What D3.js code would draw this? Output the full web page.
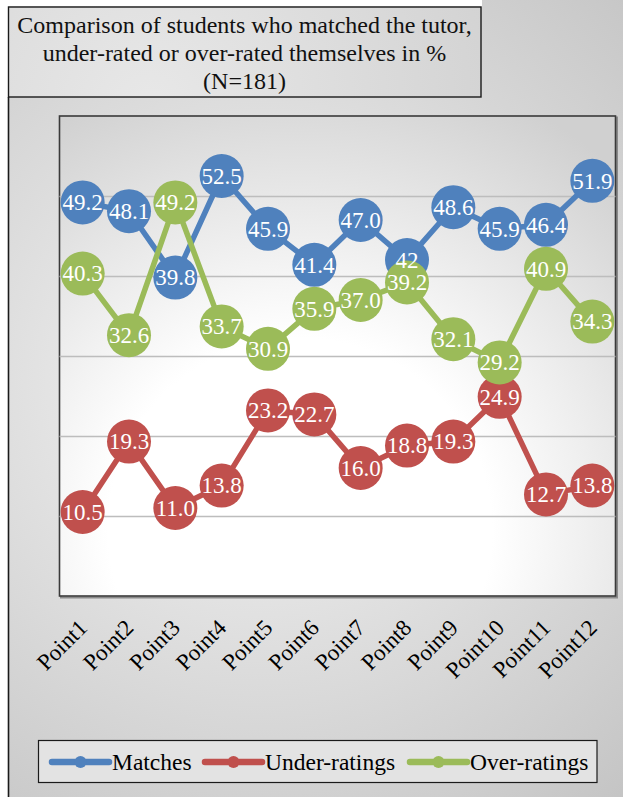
<!DOCTYPE html>
<html>
<head>
<meta charset="utf-8">
<script src="https://cdn.jsdelivr.net/npm/d3@7"></script>
<style>
  html, body { margin: 0; padding: 0; background: #fff; }
  svg { display: block; }
</style>
</head>
<body>
<svg id="chart" width="623" height="797"></svg>
<script>
// Self-assessment vs. tutor rating, percentages per point (N=181)
const categories = ["Point1","Point2","Point3","Point4","Point5","Point6","Point7","Point8","Point9","Point10","Point11","Point12"];
const matches      = [49.2, 48.1, 39.8, 52.5, 45.9, 41.4, 47.0, 42,   48.6, 45.9, 46.4, 51.9];
const underRatings = [10.5, 19.3, 11.0, 13.8, 23.2, 22.7, 16.0, 18.8, 19.3, 24.9, 12.7, 13.8];
const overRatings  = [40.3, 32.6, 49.2, 33.7, 30.9, 35.9, 37.0, 39.2, 32.1, 29.2, 40.9, 34.3];
const labelTexts = {
  matches:      ["49.2","48.1","39.8","52.5","45.9","41.4","47.0","42","48.6","45.9","46.4","51.9"],
  underRatings: ["10.5","19.3","11.0","13.8","23.2","22.7","16.0","18.8","19.3","24.9","12.7","13.8"],
  overRatings:  ["40.3","32.6","49.2","33.7","30.9","35.9","37.0","39.2","32.1","29.2","40.9","34.3"]
};
const yTicks = [10, 20, 30, 40, 50];
const titleLines = ["Comparison of students who matched the tutor,", "under-rated or over-rated themselves in %", "(N=181)"];

const series = [
  { key: "matches",      name: "Matches",       values: matches,      color: "#4F81BD" },
  { key: "underRatings", name: "Under-ratings", values: underRatings, color: "#C0504D" },
  { key: "overRatings",  name: "Over-ratings",  values: overRatings,  color: "#9BBB59" }
];

const SERIF = "'Liberation Serif', 'Times New Roman', Times, serif";

const svg = d3.select("#chart");
const defs = svg.append("defs");

// Gradients for the chart area, plot area and title box
const outerGrad = defs.append("radialGradient").attr("id", "outerGrad")
  .attr("gradientUnits", "userSpaceOnUse").attr("cx", 260).attr("cy", 380).attr("r", 560);
outerGrad.append("stop").attr("offset", "0%").attr("stop-color", "#f6f6f6");
outerGrad.append("stop").attr("offset", "100%").attr("stop-color", "#c4c4c4");

const plotGrad = defs.append("radialGradient").attr("id", "plotGrad")
  .attr("gradientUnits", "userSpaceOnUse").attr("cx", 300).attr("cy", 530).attr("r", 480);
plotGrad.append("stop").attr("offset", "0%").attr("stop-color", "#ffffff");
plotGrad.append("stop").attr("offset", "40%").attr("stop-color", "#ffffff");
plotGrad.append("stop").attr("offset", "100%").attr("stop-color", "#d0d0d0");

const titleGrad = defs.append("radialGradient").attr("id", "titleGrad")
  .attr("gradientUnits", "userSpaceOnUse").attr("cx", 150).attr("cy", 110).attr("r", 420);
titleGrad.append("stop").attr("offset", "0%").attr("stop-color", "#e8e8e8");
titleGrad.append("stop").attr("offset", "100%").attr("stop-color", "#cfcfcf");

// Chart area background and frame
svg.append("rect").attr("x", 8).attr("y", 0).attr("width", 640).attr("height", 820)
  .attr("fill", "url(#outerGrad)");
svg.append("line").attr("x1", 8.5).attr("x2", 8.5).attr("y1", 97).attr("y2", 797)
  .attr("stroke", "#1a1a1a").attr("stroke-width", 1.6);
svg.append("rect").attr("x", 0).attr("y", 0).attr("width", 482).attr("height", 6.5).attr("fill", "#ffffff");

// Title box
svg.append("rect").attr("x", 8.5).attr("y", 7).attr("width", 472.5).attr("height", 90)
  .attr("fill", "url(#titleGrad)").attr("stroke", "#1a1a1a").attr("stroke-width", 1.4);
svg.append("g").selectAll("text").data(titleLines).join("text")
  .attr("x", 244.5).attr("y", (d, i) => 33 + i * 27.8)
  .attr("text-anchor", "middle").style("font-family", SERIF).style("font-size", "24px")
  .attr("fill", "#111")
  .text(d => d);

// Plot area
const plot = { left: 59.5, top: 116, right: 615.5, bottom: 596 };
const x = d3.scaleBand().domain(categories).range([plot.left, plot.right]);
const y = d3.scaleLinear().domain([0, 60]).range([plot.bottom, plot.top]);

svg.append("rect").attr("x", plot.left + 1.5).attr("y", plot.top + 1.5)
  .attr("width", plot.right - plot.left).attr("height", plot.bottom - plot.top)
  .attr("fill", "none").attr("stroke", "#8a8a8a").attr("stroke-width", 2);
svg.append("rect").attr("x", plot.left).attr("y", plot.top)
  .attr("width", plot.right - plot.left).attr("height", plot.bottom - plot.top)
  .attr("fill", "url(#plotGrad)").attr("stroke", "#3a3a3a").attr("stroke-width", 1.6);

// Horizontal gridlines
const yAxis = d3.axisLeft(y).tickValues(yTicks).tickSize(-(plot.right - plot.left)).tickFormat("");
const gy = svg.append("g").attr("transform", `translate(${plot.left},0)`).call(yAxis);
gy.select(".domain").remove();
gy.selectAll(".tick line").attr("stroke", "#bdbdbd").attr("stroke-width", 1.6);

// Category labels, rotated
const xAxis = d3.axisBottom(x).tickSize(0).tickPadding(0);
const gx = svg.append("g").attr("transform", `translate(0,${plot.bottom})`).call(xAxis);
gx.select(".domain").remove();
gx.attr("font-family", null).attr("font-size", null);
gx.selectAll(".tick text")
  .style("font-family", SERIF).style("font-size", "23px").attr("fill", "#000")
  .attr("text-anchor", "end").attr("dy", 0).attr("y", 0)
  .attr("transform", "translate(6,33) rotate(-45)");

// Series lines and markers
const line = d3.line().x((d, i) => x(categories[i]) + x.bandwidth() / 2).y(d => y(d));
const markerR = 22;
series.forEach(s => {
  const g = svg.append("g");
  g.append("path").datum(s.values).attr("d", line)
    .attr("fill", "none").attr("stroke", s.color).attr("stroke-width", 5.5)
    .attr("stroke-linejoin", "round");
  g.selectAll("circle").data(s.values).join("circle")
    .attr("cx", (d, i) => x(categories[i]) + x.bandwidth() / 2)
    .attr("cy", d => y(d)).attr("r", markerR).attr("fill", s.color);
});

// Data labels on top of everything
series.forEach(s => {
  svg.append("g").selectAll("text").data(s.values).join("text")
    .attr("x", (d, i) => x(categories[i]) + x.bandwidth() / 2)
    .attr("y", d => y(d)).attr("dy", "0.34em")
    .attr("text-anchor", "middle")
    .style("font-family", SERIF).style("font-size", "23px").attr("fill", "#ffffff")
    .text((d, i) => labelTexts[s.key][i]);
});

// Legend
const legend = svg.append("g");
legend.append("rect").attr("x", 38.5).attr("y", 740.5).attr("width", 558.5).attr("height", 42)
  .attr("fill", "#e3e3e3").attr("stroke", "#1a1a1a").attr("stroke-width", 1.2);
const legendX = [52, 205, 410];
series.forEach((s, i) => {
  const lx = legendX[i];
  legend.append("line").attr("x1", lx).attr("x2", lx + 57).attr("y1", 762).attr("y2", 762)
    .attr("stroke", s.color).attr("stroke-width", 6.5).attr("stroke-linecap", "round");
  legend.append("circle").attr("cx", lx + 28.5).attr("cy", 762).attr("r", 6).attr("fill", s.color);
  legend.append("text").attr("x", lx + 60).attr("y", 770)
    .style("font-family", SERIF).style("font-size", "23.5px").attr("fill", "#000").text(s.name);
});
</script>
</body>
</html>
